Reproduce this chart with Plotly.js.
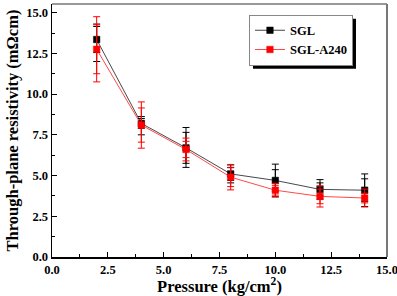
<!DOCTYPE html>
<html>
<head>
<meta charset="utf-8">
<script src="https://cdn.plot.ly/plotly-3.0.1.min.js"></script>
<style>
  html, body { margin: 0; padding: 0; background: #fff; }
  #chart { width: 397px; height: 296px; }
</style>
</head>
<body>
<div id="chart"></div>
<script>
// Compaction pressure (kg/cm2)
const pressure = [2, 4, 6, 8, 10, 12, 14];

// Through-plane resistivity (mOhm cm), plain SGL paper
const sglValues     = [13.35, 8.2, 6.7, 5.1, 4.7, 4.15, 4.1];
const sglErrUp      = [0.95, 0.42, 1.25, 0.55, 1.0, 0.6, 1.0];
const sglErrDown    = [1.35, 0.7, 1.2, 0.55, 1.0, 0.6, 1.0];
const sglErrInner   = [0.8, 0.3, 0.95, 0.4, 0.66, 0.4, 0.7];

// Through-plane resistivity (mOhm cm), SGL-A240
const a240Values    = [12.75, 8.1, 6.6, 4.9, 4.1, 3.72, 3.62];
const a240ErrUp     = [2.0, 1.42, 0.7, 0.78, 0.42, 0.65, 0.55];
const a240ErrDown   = [2.0, 1.42, 0.7, 0.78, 0.42, 0.65, 0.55];
const a240ErrInner  = [1.5, 1.05, 0.5, 0.58, 0.3, 0.45, 0.3];

const seriesNames = ['SGL', 'SGL-A240'];
const yTicks = [0, 2.5, 5, 7.5, 10, 12.5, 15];
const xTicks = [0, 2.5, 5, 7.5, 10, 12.5, 15];

const serif = 'Liberation Serif, Times New Roman, serif';

function errBars(up, down, color) {
  return { type: 'data', symmetric: false, array: up, arrayminus: down, visible: true,
           color: color, thickness: 1, width: 3.5 };
}

function series(name, y, up, down, inner, color, lineColor) {
  return [
    {
      x: pressure, y: y, name: name, type: 'scatter', mode: 'lines+markers',
      line: { color: lineColor, width: 0.9 },
      marker: { symbol: 'square', size: 6.5, color: color, line: { color: color, width: 0.5 } },
      error_y: errBars(up, down, color)
    },
    {
      x: pressure, y: y, name: name, type: 'scatter', mode: 'markers', showlegend: false,
      hoverinfo: 'skip',
      marker: { size: 1, color: 'rgba(0,0,0,0)' },
      error_y: errBars(inner, inner, color)
    }
  ];
}

const data = [].concat(
  series(seriesNames[0], sglValues, sglErrUp, sglErrDown, sglErrInner, '#000000', '#333333'),
  series(seriesNames[1], a240Values, a240ErrUp, a240ErrDown, a240ErrInner, '#ff0000', '#ff3333')
);

const tickFont = { family: serif, size: 12.5, color: '#000', weight: 'bold' };
const titleFont = { family: serif, size: 16.5, color: '#000', weight: 'bold' };

// top and right frame lines
const frameShapes = [
  { type: 'line', xref: 'paper', yref: 'paper', x0: 0, x1: 1, y0: 1, y1: 1,
    line: { color: '#777', width: 1.5 } },
  { type: 'line', xref: 'paper', yref: 'paper', x0: 1, x1: 1, y0: 0, y1: 1,
    line: { color: '#777', width: 2 } }
];

const layout = {
  width: 397, height: 296,
  margin: { l: 52, r: 10.3, t: 4, b: 39.3 },
  paper_bgcolor: '#fff', plot_bgcolor: '#fff',
  showlegend: true,
  xaxis: {
    range: [0, 15], tickmode: 'array', tickvals: xTicks, tickformat: '.1f',
    ticks: 'inside', ticklen: 5, tickwidth: 1, tickcolor: '#000',
    minor: { ticks: 'inside', dtick: 1.25, tick0: 0, ticklen: 3, tickwidth: 1, tickcolor: '#000' },
    showline: true, linecolor: '#000', linewidth: 1.5,
    showgrid: false, zeroline: false,
    tickfont: tickFont, ticklabeloverflow: 'allow',
    title: { text: 'Pressure (kg/cm<sup>2</sup>)', font: titleFont, standoff: 4 }
  },
  yaxis: {
    range: [0, 15.53], tickmode: 'array', tickvals: yTicks, tickformat: '.1f',
    ticks: 'inside', ticklen: 5, tickwidth: 1, tickcolor: '#000',
    minor: { ticks: 'inside', dtick: 1.25, tick0: 0, ticklen: 3, tickwidth: 1, tickcolor: '#000' },
    showline: true, linecolor: '#000', linewidth: 1.5,
    showgrid: false, zeroline: false,
    tickfont: tickFont, ticklabeloverflow: 'allow',
    title: { text: 'Through-plane resistivity (mΩcm)', font: titleFont, standoff: 3 }
  },
  legend: {
    x: 0.588, y: 0.958, xanchor: 'left', yanchor: 'top',
    bgcolor: '#fff', bordercolor: '#888', borderwidth: 1,
    font: { family: serif, size: 12.5, color: '#000', weight: 'bold' },
    tracegroupgap: 0, itemwidth: 30
  },
  shapes: frameShapes.slice()
};

Plotly.newPlot('chart', data, layout, { displayModeBar: false, staticPlot: true }).then(gd => {
  // drop shadow offset behind the legend box
  const bg = gd.querySelector('.legend .bg');
  if (!bg) return;
  const box = bg.getBoundingClientRect();
  const host = gd.getBoundingClientRect();
  const sz = gd._fullLayout._size;
  const off = 3.5;
  const px = v => (v - host.left - sz.l) / sz.w;
  const py = v => 1 - (v - host.top - sz.t) / sz.h;
  const shadow = {
    type: 'rect', xref: 'paper', yref: 'paper', layer: 'below',
    x0: px(box.left + off), x1: px(box.right + off),
    y0: py(box.bottom + off), y1: py(box.top + off),
    fillcolor: '#000', line: { width: 0 }
  };
  return Plotly.relayout(gd, { shapes: [shadow].concat(frameShapes) });
});
</script>
</body>
</html>
